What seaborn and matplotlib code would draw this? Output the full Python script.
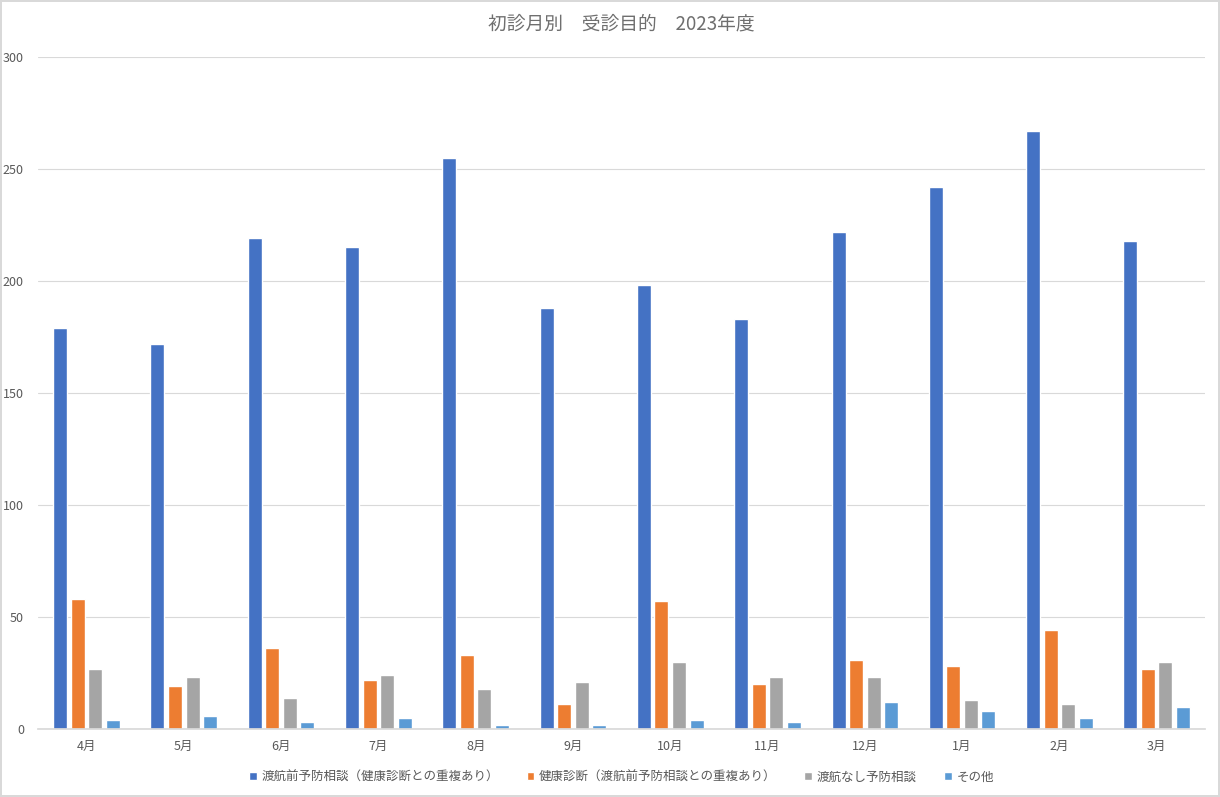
import pandas as pd
import numpy as np
import matplotlib
matplotlib.use("Agg")
import matplotlib.pyplot as plt
import seaborn as sns

# === data ===
months = ["4月", "5月", "6月", "7月", "8月", "9月", "10月", "11月", "12月", "1月", "2月", "3月"]
series_names = [
    "渡航前予防相談（健康診断との重複あり）",
    "健康診断（渡航前予防相談との重複あり）",
    "渡航なし予防相談",
    "その他",
]
pre_travel = [179, 172, 219, 215, 255, 188, 198, 183, 222, 242, 267, 218]
health_check = [58, 19, 36, 22, 33, 11, 57, 20, 31, 28, 44, 27]
no_travel = [27, 23, 14, 24, 18, 21, 30, 23, 23, 13, 11, 30]
other = [4, 6, 3, 5, 2, 2, 4, 3, 12, 8, 5, 10]
colors = ["#4472C4", "#ED7D31", "#A5A5A5", "#5B9BD5"]

rows = []
for name, vals in zip(series_names, [pre_travel, health_check, no_travel, other]):
    for m, v in zip(months, vals):
        rows.append({"month": m, "series": name, "count": v})
df = pd.DataFrame(rows)

# === plot ===
sns.set_theme(style="white")
plt.rcParams["font.family"] = ["Noto Sans CJK JP", "DejaVu Sans"]
text_col = "#595959"

fig = plt.figure(figsize=(12.2, 7.97), dpi=100)
fig.patch.set_edgecolor("#D9D9D9")
fig.patch.set_linewidth(1.5)
ax = fig.add_axes([0.031, 0.0853, 0.957, 0.8432])

sns.barplot(data=df, x="month", y="count", hue="series", order=months,
            hue_order=series_names, palette=colors, width=0.72, gap=0.2,
            saturation=1, ax=ax, legend=True)

ax.set_ylim(0, 300)
ax.set_yticks(range(0, 301, 50))
ax.set_xlim(-0.5, len(months) - 0.5)
ax.yaxis.grid(True, color="#D9D9D9", linewidth=0.8)
ax.set_axisbelow(True)
for s in ["top", "right", "left"]:
    ax.spines[s].set_visible(False)
ax.spines["bottom"].set_color("#D9D9D9")
ax.set_xlabel("")
ax.set_ylabel("")
ax.tick_params(axis="y", length=0, labelsize=9, labelcolor=text_col, pad=10)
ax.tick_params(axis="x", length=0, labelsize=9, labelcolor=text_col, pad=8)
ax.set_xticks(np.arange(-0.5, len(months), 1), minor=True)
ax.tick_params(axis="x", which="minor", length=5, color="#D9D9D9", direction="out")

ax.set_title("初診月別　受診目的　2023年度", fontsize=13.5, color="#6f6f6f", pad=20)

handles, labels = ax.get_legend_handles_labels()
ax.legend(handles, labels, loc="upper center", bbox_to_anchor=(0.5, -0.045),
          ncol=4, frameon=False, fontsize=9, labelcolor=text_col,
          handlelength=0.6, handleheight=0.6, columnspacing=2.2, handletextpad=0.4)

plt.savefig("out.png", dpi=100, edgecolor=fig.get_edgecolor())
